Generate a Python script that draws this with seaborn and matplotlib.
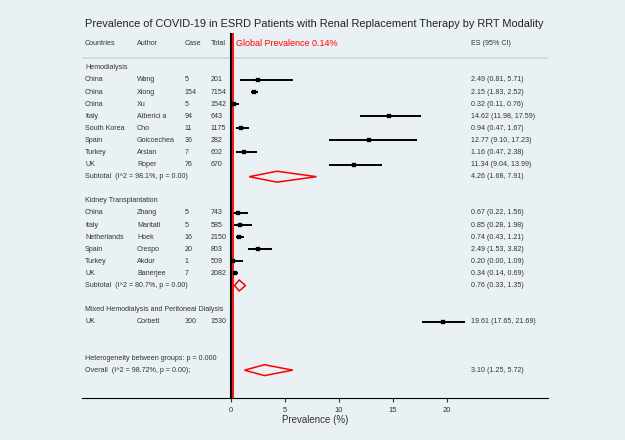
import pandas as pd
import matplotlib.pyplot as plt
import seaborn as sns

# Hemodialysis
hd_country = ["China", "China", "China", "Italy", "South Korea", "Spain", "Turkey", "UK"]
hd_author = ["Wang", "Xiong", "Xu", "Alberici a", "Cho", "Goicoechea", "Arslan", "Roper"]
hd_case = [5, 154, 5, 94, 11, 36, 7, 76]
hd_total = [201, 7154, 1542, 643, 1175, 282, 602, 670]
hd_es = [2.49, 2.15, 0.32, 14.62, 0.94, 12.77, 1.16, 11.34]
hd_lo = [0.81, 1.83, 0.11, 11.98, 0.47, 9.10, 0.47, 9.04]
hd_hi = [5.71, 2.52, 0.76, 17.59, 1.67, 17.23, 2.38, 13.99]
hd_sub = (4.26, 1.68, 7.91, "Subtotal  (I^2 = 98.1%, p = 0.00)")

# Kidney transplantation
kt_country = ["China", "Italy", "Netherlands", "Spain", "Turkey", "UK"]
kt_author = ["Zhang", "Maritati", "Hoek", "Crespo", "Akdur", "Banerjee"]
kt_case = [5, 5, 16, 20, 1, 7]
kt_total = [743, 585, 2150, 803, 509, 2082]
kt_es = [0.67, 0.85, 0.74, 2.49, 0.20, 0.34]
kt_lo = [0.22, 0.28, 0.43, 1.53, 0.00, 0.14]
kt_hi = [1.56, 1.98, 1.21, 3.82, 1.09, 0.69]
kt_sub = (0.76, 0.33, 1.35, "Subtotal  (I^2 = 80.7%, p = 0.00)")

# Mixed HD + PD
mx_country = ["UK"]
mx_author = ["Corbett"]
mx_case = [300]
mx_total = [1530]
mx_es = [19.61]
mx_lo = [17.65]
mx_hi = [21.69]

overall = (3.10, 1.25, 5.72, "Overall  (I^2 = 98.72%, p = 0.00);")
global_prev = 0.14
xticks = [0, 5, 10, 15, 20]

groups = [
    ("Hemodialysis", hd_country, hd_author, hd_case, hd_total, hd_es, hd_lo, hd_hi, hd_sub),
    ("Kidney Transplantation", kt_country, kt_author, kt_case, kt_total, kt_es, kt_lo, kt_hi, kt_sub),
    ("Mixed Hemodialysis and Peritoneal Dialysis", mx_country, mx_author, mx_case, mx_total,
     mx_es, mx_lo, mx_hi, None),
]

bg = "#eaf1f4"
txt = "#333333"
plt.rcParams["font.family"] = ["Liberation Sans", "DejaVu Sans"]

fig = plt.figure(figsize=(6.25, 4.4), dpi=100, facecolor=bg)
ax = fig.add_axes([0.131, 0.0955, 0.746, 0.83], facecolor=bg)

# column positions (data units)
x_country, x_author, x_case, x_total, x_es = -13.5, -8.7, -4.3, -1.85, 22.2
fs = 5.1

rows = []
diamonds = []
r = 0
for name, cty, aut, cas, tot, es, lo, hi, sub in groups:
    ax.text(x_country, r, name, fontsize=fs, color=txt, va="center")
    r += 1
    for i in range(len(es)):
        rows.append(dict(row=r, es=es[i], lo=lo[i], hi=hi[i]))
        ax.text(x_country, r, cty[i], fontsize=fs, color=txt, va="center")
        ax.text(x_author, r, aut[i], fontsize=fs, color=txt, va="center")
        ax.text(x_case, r, str(cas[i]), fontsize=fs, color=txt, va="center")
        ax.text(x_total, r, str(tot[i]), fontsize=fs, color=txt, va="center")
        ax.text(x_es, r, f"{es[i]:.2f} ({lo[i]:.2f}, {hi[i]:.2f})", fontsize=fs,
                color=txt, va="center")
        r += 1
    if sub is not None:
        diamonds.append((r, sub))
        r += 1
    r += 1

r += 1
ax.text(x_country, r, "Heterogeneity between groups: p = 0.000", fontsize=fs, color=txt,
        va="center")
r += 1
diamonds.append((r, overall))

df = pd.DataFrame(rows)

ax.hlines(df["row"], df["lo"], df["hi"], color="black", lw=1.4)
sns.scatterplot(data=df, x="es", y="row", marker="s", s=7, color="black",
                edgecolor="black", ax=ax, zorder=3)

for dr, (m, lo, hi, label) in diamonds:
    ax.fill([lo, m, hi, m, lo], [dr, dr - 0.45, dr, dr + 0.45, dr], facecolor="none",
            edgecolor="red", lw=1.1)
    ax.text(x_country, dr, label, fontsize=fs, color=txt, va="center")
    ax.text(x_es, dr, f"{m:.2f} ({lo:.2f}, {hi:.2f})", fontsize=fs, color=txt,
            va="center")

# header
hy = -2.0
for xx, lab in [(x_country, "Countries"), (x_author, "Author"), (x_case, "Case"),
                (x_total, "Total"), (x_es, "ES (95% CI)")]:
    ax.text(xx, hy, lab, fontsize=fs, color=txt, va="center")
ax.text(0.5, hy, f"Global Prevalence {global_prev}%", fontsize=6.5, color="red", va="center")
ax.axhline(-0.8, color="#cfd6da", lw=1.2)

ax.axvline(0, color="black", lw=1.5)
ax.axvline(global_prev, color="red", lw=1.3)

ax.set_xlim(-13.8, 29.35)
ax.set_ylim(27.3, -2.9)
ax.set_xticks(xticks)
ax.set_yticks([])
ax.tick_params(axis="x", labelsize=5.5, colors=txt, length=3, width=0.8)
ax.set_xlabel("Prevalence (%)", fontsize=7, color=txt, labelpad=1)
ax.set_ylabel("")
for s in ["top", "left", "right"]:
    ax.spines[s].set_visible(False)
ax.spines["bottom"].set_color("black")
ax.spines["bottom"].set_linewidth(0.8)

fig.text(0.503, 0.945, "Prevalence of COVID-19 in ESRD Patients with Renal Replacement Therapy by RRT Modality",
         ha="center", va="center", fontsize=7.9, color="#222222")

fig.savefig("out.png", dpi=100, facecolor=bg)
